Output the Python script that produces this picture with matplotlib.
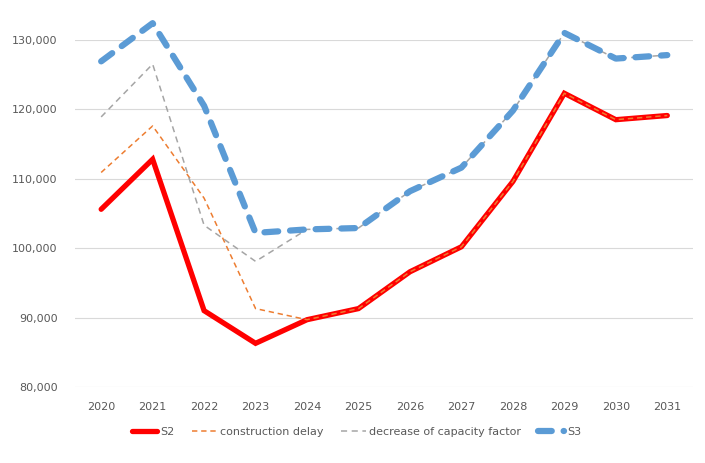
import matplotlib.pyplot as plt
from matplotlib.ticker import FuncFormatter

# Values
years = [2020, 2021, 2022, 2023, 2024, 2025, 2026, 2027, 2028, 2029, 2030, 2031]
s2 = [105600, 112800, 91000, 86300, 89700, 91300, 96600, 100200, 109600, 122300, 118500, 119100]
construction_delay = [110900, 117600, 107200, 91300, 89700, 91300, 96600, 100200, 109600, 122300, 118500, 119100]
capacity_factor = [118900, 126500, 103300, 98100, 102700, 102900, 108200, 111600, 119800, 131000, 127300, 127800]
s3 = [126900, 132400, 120500, 102200, 102700, 102900, 108200, 111600, 119800, 131000, 127300, 127800]

fig = plt.figure(figsize=(7.05, 4.63), dpi=100)
ax = fig.add_axes([0.107, 0.164, 0.876, 0.75])

x = range(len(years))

ax.plot(x, s2, color="#FF0000", lw=3.8, solid_capstyle="round",
        solid_joinstyle="miter", label="S2", clip_on=False, zorder=3)
ax.plot(x, construction_delay, color="#ED7D31", lw=1.1, dashes=(3.5, 2.5),
        label="construction delay", clip_on=False, zorder=4)
ax.plot(x, capacity_factor, color="#A5A5A5", lw=1.1, dashes=(4, 3),
        label="decrease of capacity factor", clip_on=False, zorder=4)
ax.plot(x, s3, color="#5B9BD5", lw=4.5, dashes=(2.2, 1.9), dash_capstyle="round",
        label="S3", clip_on=False, zorder=5)

ax.set_xlim(-0.5, len(years) - 0.5)
ax.set_ylim(80000, 130000)
ax.set_yticks(range(80000, 130001, 10000))
ax.yaxis.set_major_formatter(FuncFormatter(lambda v, p: f"{int(v):,}"))
ax.set_xticks(list(x))
ax.set_xticklabels([str(y) for y in years])

for s in ax.spines.values():
    s.set_visible(False)
ax.grid(axis="y", color="#D9D9D9", lw=0.8)
ax.set_axisbelow(True)
ax.tick_params(length=0, labelsize=8, labelcolor="#595959")
ax.tick_params(axis="y", pad=13)
ax.tick_params(axis="x", pad=11)

ax.legend(loc="upper center", bbox_to_anchor=(0.455, -0.085), ncol=4, frameon=False,
          fontsize=8, labelcolor="#595959", handlelength=2.3, columnspacing=1.5,
          handletextpad=0.3)

fig.savefig("out.png", dpi=100)
